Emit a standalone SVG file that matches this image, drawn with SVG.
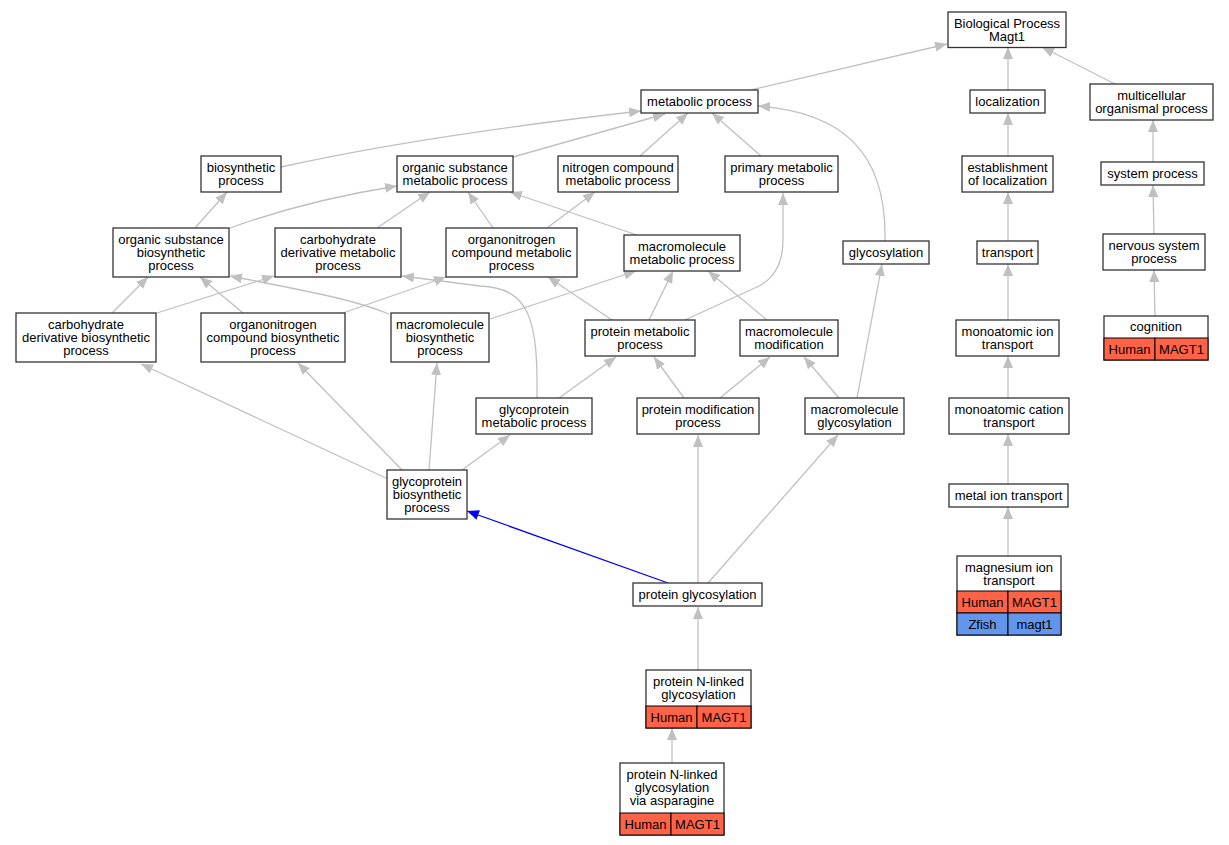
<svg xmlns="http://www.w3.org/2000/svg" width="1229" height="845" viewBox="0 0 1229 845">
<defs>
<style>
.n rect{fill:#fff;stroke:#333;stroke-width:1.3}
.n text{font-family:"Liberation Sans",Arial,sans-serif;font-size:13px;text-anchor:middle;fill:#000}
.n rect.h{fill:#ff6347;stroke:#000;stroke-width:1}
.n rect.z{fill:#6495ed;stroke:#000;stroke-width:1}
.e path{fill:none;stroke:#c0c0c0;stroke-width:1.3;marker-end:url(#ah)}
.e path.b{stroke:#0000ff;marker-end:url(#ab)}
</style>
<marker id="ah" viewBox="0 0 12 10" refX="12" refY="5" markerWidth="12" markerHeight="10" markerUnits="userSpaceOnUse" orient="auto"><path d="M0,0L12,5L0,10z" fill="#c0c0c0"/></marker>
<marker id="ab" viewBox="0 0 12 10" refX="12" refY="5" markerWidth="12" markerHeight="10" markerUnits="userSpaceOnUse" orient="auto"><path d="M0,0L12,5L0,10z" fill="#0000ff"/></marker>
</defs>
<rect width="1229" height="845" fill="#fff"/>
<g id="edges" class="e">
<path d="M751,90 L947,44"/>
<path d="M1008,90 L1008,47"/>
<path d="M1115,84 L1042,47"/>
<path d="M281,167 Q420,136 641,111"/>
<path d="M513,157 L665,114"/>
<path d="M640,156 L688,113"/>
<path d="M761,156 L712,113"/>
<path d="M885,241 C887,150 840,112 758,106"/>
<path d="M1008,156 L1008,113"/>
<path d="M1153,162 L1153,120"/>
<path d="M195,228 L227,192"/>
<path d="M230,228 C280,210 340,195 397,186"/>
<path d="M377,228 L430,192"/>
<path d="M493,228 L468,192"/>
<path d="M547,228 L595,192"/>
<path d="M637,235 L510,192"/>
<path d="M1008,241 L1008,192"/>
<path d="M1154,234 L1153,185"/>
<path d="M112,313 L148,277"/>
<path d="M157,313 L274,276"/>
<path d="M243,313 L200,277"/>
<path d="M343,313 L446,277"/>
<path d="M389,314 C350,298 300,290 230,276"/>
<path d="M490,319 L636,271"/>
<path d="M537,398 C538,320 530,288 480,286 L402,276"/>
<path d="M559,398 L616,357"/>
<path d="M612,320 L548,277"/>
<path d="M649,320 L673,271"/>
<path d="M685,320 L757,287 C776,278 783,262 783,240 L783,193"/>
<path d="M767,320 L708,271"/>
<path d="M684,398 L654,357"/>
<path d="M720,398 L770,357"/>
<path d="M839,398 L804,357"/>
<path d="M857,398 L882,264"/>
<path d="M388,479 L141,364"/>
<path d="M402,470 L298,363"/>
<path d="M429,470 L437,363"/>
<path d="M462,470 L510,435"/>
<path class="b" d="M668,583 L467,511"/>
<path d="M698,583 L698,435"/>
<path d="M708,583 L838,435"/>
<path d="M698,670 L698,607"/>
<path d="M672,763 L672,728"/>
<path d="M1008,320 L1008,264"/>
<path d="M1008,398 L1008,356"/>
<path d="M1008,484 L1008,434"/>
<path d="M1008,556 L1008,507"/>
<path d="M1155,316 L1154,270"/>
</g>
<g id="n_bp" class="n"><rect x="948" y="12" width="118" height="35.5"/><text x="1007" y="27.5">Biological Process</text><text x="1007" y="40.5">Magt1</text></g>
<g id="n_metabolic" class="n"><rect x="641" y="90" width="117" height="23"/><text x="699.5" y="105.5">metabolic process</text></g>
<g id="n_localization" class="n"><rect x="970" y="90" width="75" height="23"/><text x="1007.5" y="105.5">localization</text></g>
<g id="n_multicellular" class="n"><rect x="1090" y="84" width="123" height="36"/><text x="1151.5" y="99.5">multicellular</text><text x="1151.5" y="112.5">organismal process</text></g>
<g id="n_biosynthetic" class="n"><rect x="201" y="156" width="80" height="36"/><text x="241" y="171.5">biosynthetic</text><text x="241" y="184.5">process</text></g>
<g id="n_osm" class="n"><rect x="397" y="156" width="116" height="36"/><text x="455" y="171.5">organic substance</text><text x="455" y="184.5">metabolic process</text></g>
<g id="n_ncm" class="n"><rect x="558" y="156" width="120" height="36"/><text x="618" y="171.5">nitrogen compound</text><text x="618" y="184.5">metabolic process</text></g>
<g id="n_pm" class="n"><rect x="725" y="156" width="113" height="36"/><text x="781.5" y="171.5">primary metabolic</text><text x="781.5" y="184.5">process</text></g>
<g id="n_establishment" class="n"><rect x="962" y="156" width="91" height="36"/><text x="1007.5" y="171.5">establishment</text><text x="1007.5" y="184.5">of localization</text></g>
<g id="n_system" class="n"><rect x="1101" y="162" width="103" height="23"/><text x="1152.5" y="177.5">system process</text></g>
<g id="n_osb" class="n"><rect x="113" y="228" width="116" height="49"/><text x="171" y="243.5">organic substance</text><text x="171" y="256.5">biosynthetic</text><text x="171" y="269.5">process</text></g>
<g id="n_cdm" class="n"><rect x="275" y="228" width="126" height="49"/><text x="338" y="243.5">carbohydrate</text><text x="338" y="256.5">derivative metabolic</text><text x="338" y="269.5">process</text></g>
<g id="n_oncm" class="n"><rect x="446" y="228" width="131" height="49"/><text x="511.5" y="243.5">organonitrogen</text><text x="511.5" y="256.5">compound metabolic</text><text x="511.5" y="269.5">process</text></g>
<g id="n_mm" class="n"><rect x="624" y="235" width="116" height="36"/><text x="682" y="250.5">macromolecule</text><text x="682" y="263.5">metabolic process</text></g>
<g id="n_glycosylation" class="n"><rect x="843" y="241" width="86" height="23"/><text x="886" y="256.5">glycosylation</text></g>
<g id="n_transport" class="n"><rect x="977" y="241" width="61" height="23"/><text x="1007.5" y="256.5">transport</text></g>
<g id="n_nervous" class="n"><rect x="1103" y="234" width="102" height="36"/><text x="1154" y="249.5">nervous system</text><text x="1154" y="262.5">process</text></g>
<g id="n_cdb" class="n"><rect x="16" y="313" width="140" height="49"/><text x="86" y="328.5">carbohydrate</text><text x="86" y="341.5">derivative biosynthetic</text><text x="86" y="354.5">process</text></g>
<g id="n_oncb" class="n"><rect x="201" y="313" width="144" height="49"/><text x="273" y="328.5">organonitrogen</text><text x="273" y="341.5">compound biosynthetic</text><text x="273" y="354.5">process</text></g>
<g id="n_mb" class="n"><rect x="391" y="313" width="98" height="49"/><text x="440" y="328.5">macromolecule</text><text x="440" y="341.5">biosynthetic</text><text x="440" y="354.5">process</text></g>
<g id="n_pmp" class="n"><rect x="585" y="320" width="110" height="36"/><text x="640" y="335.5">protein metabolic</text><text x="640" y="348.5">process</text></g>
<g id="n_mmod" class="n"><rect x="740" y="320" width="98" height="36"/><text x="789" y="335.5">macromolecule</text><text x="789" y="348.5">modification</text></g>
<g id="n_monoion" class="n"><rect x="956" y="320" width="103" height="36"/><text x="1007.5" y="335.5">monoatomic ion</text><text x="1007.5" y="348.5">transport</text></g>
<g id="n_cognition" class="n"><rect x="1104" y="316" width="104" height="44"/><text x="1156" y="331">cognition</text><rect class="h" x="1104" y="338" width="51" height="22"/><rect class="h" x="1155" y="338" width="53" height="22"/><text x="1129.5" y="353.5">Human</text><text x="1181.5" y="353.5">MAGT1</text></g>
<g id="n_gpm" class="n"><rect x="476" y="398" width="116" height="36"/><text x="534" y="413.5">glycoprotein</text><text x="534" y="426.5">metabolic process</text></g>
<g id="n_pmod" class="n"><rect x="637" y="398" width="122" height="36"/><text x="698" y="413.5">protein modification</text><text x="698" y="426.5">process</text></g>
<g id="n_mgly" class="n"><rect x="805" y="398" width="99" height="36"/><text x="854.5" y="413.5">macromolecule</text><text x="854.5" y="426.5">glycosylation</text></g>
<g id="n_cation" class="n"><rect x="949" y="398" width="120" height="36"/><text x="1009" y="413.5">monoatomic cation</text><text x="1009" y="426.5">transport</text></g>
<g id="n_gpb" class="n"><rect x="387" y="470" width="80" height="49"/><text x="427" y="485.5">glycoprotein</text><text x="427" y="498.5">biosynthetic</text><text x="427" y="511.5">process</text></g>
<g id="n_metal" class="n"><rect x="949" y="484" width="119" height="23"/><text x="1008.5" y="499.5">metal ion transport</text></g>
<g id="n_magnesium" class="n"><rect x="957" y="556" width="104" height="79"/><text x="1009" y="571.5">magnesium ion</text><text x="1009" y="584.5">transport</text><rect class="h" x="957" y="591" width="51" height="22"/><rect class="h" x="1008" y="591" width="53" height="22"/><text x="982.5" y="606.5">Human</text><text x="1034.5" y="606.5">MAGT1</text><rect class="z" x="957" y="613" width="51" height="22"/><rect class="z" x="1008" y="613" width="53" height="22"/><text x="982.5" y="628.5">Zfish</text><text x="1034.5" y="628.5">magt1</text></g>
<g id="n_pg" class="n"><rect x="633" y="583" width="129" height="23"/><text x="697.5" y="598.5">protein glycosylation</text></g>
<g id="n_pnl" class="n"><rect x="646" y="670" width="105" height="58"/><text x="698.5" y="685.5">protein N-linked</text><text x="698.5" y="698.5">glycosylation</text><rect class="h" x="646" y="706" width="51" height="22"/><rect class="h" x="697" y="706" width="54" height="22"/><text x="671.5" y="721.5">Human</text><text x="724" y="721.5">MAGT1</text></g>
<g id="n_pnla" class="n"><rect x="620" y="763" width="104" height="72"/><text x="672" y="778.5">protein N-linked</text><text x="672" y="791.5">glycosylation</text><text x="672" y="804.5">via asparagine</text><rect class="h" x="620" y="813" width="51" height="22"/><rect class="h" x="671" y="813" width="53" height="22"/><text x="645.5" y="828.5">Human</text><text x="697.5" y="828.5">MAGT1</text></g>
</svg>
